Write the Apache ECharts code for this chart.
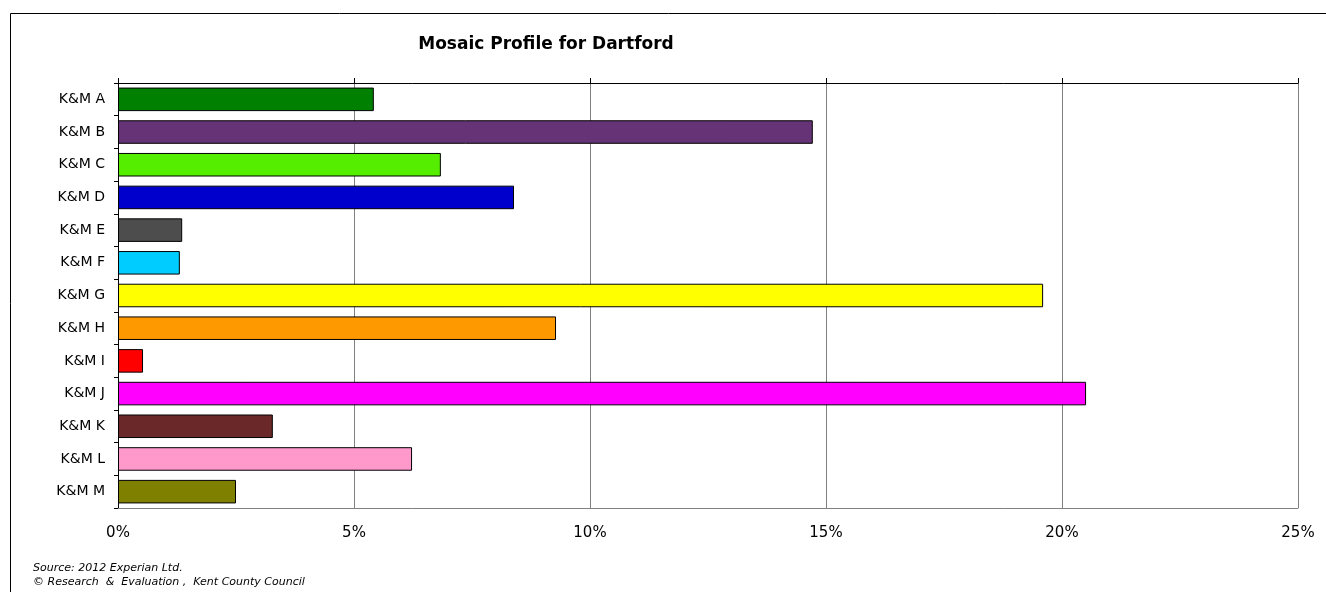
<!DOCTYPE html>
<html>
<head>
<meta charset="utf-8">
<script src="https://cdn.jsdelivr.net/npm/echarts@6/dist/echarts.min.js"></script>
<style>
  html, body { margin: 0; padding: 0; background: #fff; }
  #chart { width: 1326px; height: 592px; }
</style>
</head>
<body>
<div id="chart"></div>
<script>
  // mosaic groups
  var categories = ['K&M A', 'K&M B', 'K&M C', 'K&M D', 'K&M E', 'K&M F', 'K&M G',
    'K&M H', 'K&M I', 'K&M J', 'K&M K', 'K&M L', 'K&M M'];
  var shares = [5.42, 14.72, 6.84, 8.39, 1.36, 1.31, 19.6, 9.28, 0.53, 20.51, 3.28, 6.23, 2.5];
  var barColors = ['#008000', '#663377', '#55ee00', '#0000cc', '#4d4d4d', '#00ccff', '#ffff00',
    '#ff9900', '#ff0000', '#ff00ff', '#6b2828', '#ff99cc', '#808000'];

  var myChart = echarts.init(document.getElementById('chart'));
  var font = 'DejaVu Sans, Liberation Sans, Arial, sans-serif';

  var options = {
    backgroundColor: '#fff',
    animation: false,
    title: {
      text: 'Mosaic Profile for Dartford',
      left: 541,
      top: 31,
      textAlign: 'center',
      textStyle: { fontFamily: font, fontSize: 17, fontWeight: 'bold', color: '#000' }
    },
    graphic: [
      { type: 'rect', shape: { x: 10.5, y: 13.5, width: 1330, height: 600 },
        style: { fill: 'none', stroke: '#000', lineWidth: 1 }, silent: true },
      { type: 'text', left: 33, top: 563,
        style: { text: 'Source: 2012 Experian Ltd.', font: 'italic 11px ' + font, fill: '#000' } },
      { type: 'text', left: 33, top: 577,
        style: { text: '\u00a9 Research  &  Evaluation ,  Kent County Council', font: 'italic 11px ' + font, fill: '#000' } }
    ],
    grid: { left: 118, right: 28, top: 83, bottom: 84, containLabel: false },
    xAxis: [{
      type: 'value',
      position: 'bottom',
      min: 0, max: 25, interval: 5,
      axisLine: { show: true, lineStyle: { color: '#808080' } },
      axisTick: { show: false },
      axisLabel: {
        margin: 18,
        formatter: '{value}%',
        fontFamily: font, fontSize: 15, color: '#000'
      },
      splitLine: { show: true, lineStyle: { color: '#808080', width: 1 } }
    }, {
      type: 'value',
      position: 'top',
      min: 0, max: 25, interval: 5,
      axisLine: { show: true, lineStyle: { color: '#000' } },
      axisTick: { show: true, length: 5, lineStyle: { color: '#000' } },
      axisLabel: { show: false },
      splitLine: { show: false }
    }],
    yAxis: {
      type: 'category',
      data: categories,
      inverse: true,
      axisLine: { show: true, lineStyle: { color: '#000' } },
      axisTick: { show: true, length: 4, lineStyle: { color: '#000' } },
      axisLabel: { margin: 13, fontFamily: font, fontSize: 14, color: '#000' }
    },
    series: [{
      type: 'bar',
      xAxisIndex: 0,
      barCategoryGap: '28%',
      data: shares.map(function (v, i) {
        return { value: v, itemStyle: { color: barColors[i] } };
      }),
      itemStyle: { borderColor: '#000', borderWidth: 1 }
    }]
  };
  myChart.setOption(options);
</script>
</body>
</html>
